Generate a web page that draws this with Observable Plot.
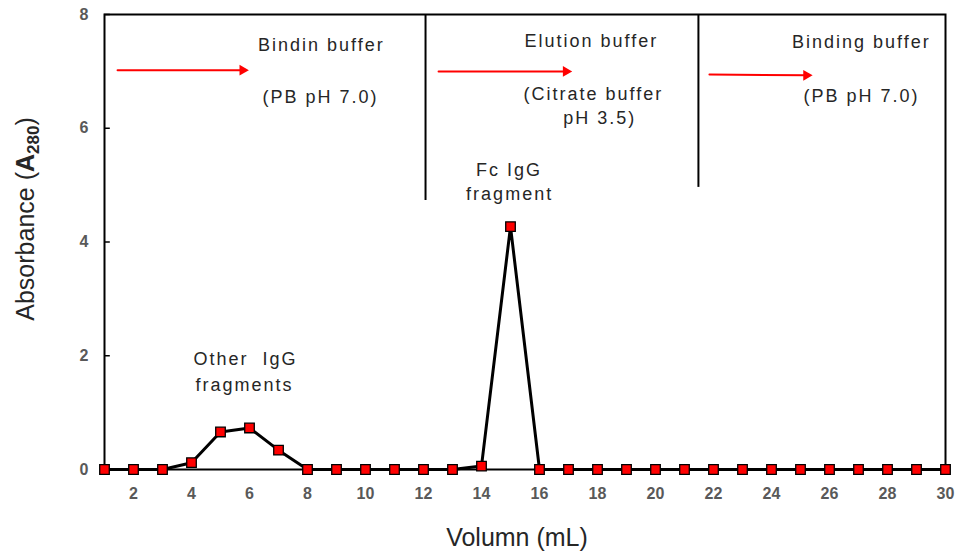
<!DOCTYPE html>
<html>
<head>
<meta charset="utf-8">
<script src="https://cdn.jsdelivr.net/npm/d3@7"></script>
<script src="https://cdn.jsdelivr.net/npm/@observablehq/plot@0.6"></script>
<style>
body { margin: 0; background: #fff; }
</style>
</head>
<body>
<div id="chart"></div>
<script>
// ---- data ----
const volume = [1,2,3,4,5,6,7,8,9,10,11,12,13,14,15,16,17,18,19,20,21,22,23,24,25,26,27,28,29,30];
const absorbance = [0,0,0,0.12,0.66,0.73,0.34,0,0,0,0,0,0,0.06,4.27,0,0,0,0,0,0,0,0,0,0,0,0,0,0,0];
const xTicks = [2,4,6,8,10,12,14,16,18,20,22,24,26,28,30];
const yTicks = [0,2,4,6,8];

// buffer change dividers
const dividerX = [12.07, 21.48];
const dividerBottom = [4.73, 4.96];

// buffer-flow arrows
const arrowX1 = [1.45, 12.52, 21.86];
const arrowX2 = [5.97, 17.12, 25.41];
const arrowY1 = [7.02, 7.0, 6.945];
const arrowY2 = [7.02, 7.0, 6.93];

// annotations
const annoText = ["Bindin buffer", "(PB pH 7.0)", "Elution buffer", "(Citrate buffer", "pH 3.5)",
                  "Binding buffer", "(PB pH 7.0)", "Fc IgG", "fragment", "Other  IgG", "fragments"];
const annoX = [8.48, 8.45, 17.79, 17.86, 18.08, 27.1, 27.1, 14.95, 14.97, 5.86, 5.83];
const annoY = [7.465, 6.54, 7.53, 6.59, 6.17, 7.51, 6.56, 5.27, 4.84, 1.93, 1.48];

const xLabel = "Volumn (mL)";
const yLabel = "Absorbance (A280)";

// ---- tables ----
const rows = volume.map((v, i) => ({v, a: absorbance[i]}));
const dividers = dividerX.map((x, i) => ({x, bottom: dividerBottom[i]}));
const arrows = arrowX1.map((x1, i) => ({x1, x2: arrowX2[i], y1: arrowY1[i], y2: arrowY2[i]}));
const annos = annoText.map((t, i) => ({t, x: annoX[i], y: annoY[i]}));

const chart = Plot.plot({
  width: 961,
  height: 557,
  marginLeft: 104,
  marginRight: 16,
  marginTop: 14,
  marginBottom: 88,
  style: {fontFamily: "'Liberation Sans', Arial, sans-serif", background: "#fff", color: "#000", overflow: "visible"},
  x: {domain: [1, 30]},
  y: {domain: [0, 8]},
  marks: [
    Plot.axisX({ticks: xTicks, tickSize: 0, tickPadding: 18, fontSize: 16, fontWeight: "bold", fill: "#595959", label: null, tickFormat: d => String(d)}),
    Plot.axisY({ticks: yTicks, tickSize: 0, tickPadding: 16, fontSize: 16, fontWeight: "bold", fill: "#595959", label: null, tickFormat: d => String(d)}),
    Plot.ruleY(yTicks, {y: d => d, x1: 1, x2: 1.2, stroke: "#000", strokeWidth: 1.5}),
    Plot.ruleX(dividers, {x: "x", y1: 8, y2: "bottom", stroke: "#000", strokeWidth: 2}),
    Plot.frame({stroke: "#000", strokeWidth: 2}),
    Plot.arrow(arrows, {x1: "x1", y1: "y1", x2: "x2", y2: "y2", stroke: "#ff0000", strokeWidth: 2, headLength: 0, insetEnd: 5}),
    Plot.dot(arrows, {x: "x2", y: "y2", symbol: "triangle", r: 4, rotate: 90, fill: "#ff0000", stroke: "none", dx: -6}),
    Plot.line(rows, {x: "v", y: "a", stroke: "#000", strokeWidth: 3}),
    Plot.dot(rows, {x: "v", y: "a", symbol: "square", r: 5.4, fill: "#ff0000", stroke: "#000", strokeWidth: 1.3}),
    Plot.text(annos, {x: "x", y: "y", text: "t", fontSize: 18, fill: "#262626", textAnchor: "middle", lineAnchor: "middle"}),
    Plot.text([xLabel], {frameAnchor: "bottom", dy: 68, dx: -8, fontSize: 25, fill: "#262626", textAnchor: "middle", lineAnchor: "middle"}),
    Plot.text([yLabel], {frameAnchor: "left", rotate: -90, dx: -79, dy: -23, fontSize: 25, fill: "#262626", textAnchor: "middle", lineAnchor: "middle"})
  ]
});

document.getElementById("chart").appendChild(chart);

// widen annotation lettering; build the subscripted y label
const annoSet = new Set(annoText);
chart.querySelectorAll("text").forEach(t => {
  if (annoSet.has(t.textContent)) t.style.letterSpacing = "2px";
  if (t.textContent === yLabel) {
    const ns = "http://www.w3.org/2000/svg";
    t.textContent = "";
    const add = (s, attrs) => {
      const e = document.createElementNS(ns, "tspan");
      e.textContent = s;
      for (const k in attrs) e.setAttribute(k, attrs[k]);
      t.appendChild(e);
    };
    add("Absorbance (", {});
    add("A", {"font-weight": "bold"});
    add("280", {"font-weight": "bold", "font-size": "17", "dy": "5"});
    add(")", {"dy": "-5"});
  }
});
</script>
</body>
</html>
